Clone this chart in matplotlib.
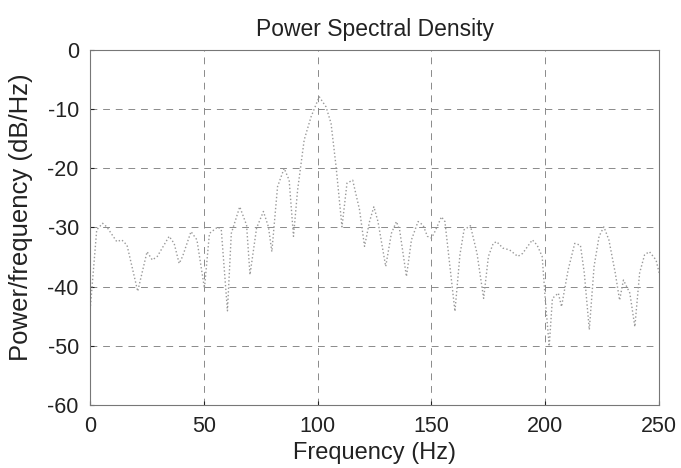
import numpy as np
import matplotlib
matplotlib.use("Agg")
import matplotlib.pyplot as plt

plt.rcParams['font.family'] = ['Liberation Sans', 'DejaVu Sans']
plt.rcParams['axes.unicode_minus'] = False

# values (Hz, dB/Hz)
freq = [0, 3, 5.6, 7.4, 11.8, 14, 16.3, 21, 25.1, 27.4, 29.6, 34.8, 37, 39.2,
        40.7, 44.4, 47, 50.3, 52.5, 56.2, 57.7, 60.4, 62.1, 65.8, 68.8, 70.3,
        73.2, 76.2, 78.4, 79.9, 82.4, 85.3, 87.5, 89.4, 91.2, 94.1, 97.1,
        100.7, 103.7, 105.9, 108.1, 110.7, 112.9, 115.4, 118.4, 120.6, 122.8,
        124.7, 126.5, 129.9, 132.4, 134.6, 136, 139, 141.2, 144.1, 146.3,
        148.2, 150, 151.5, 154.4, 155.9, 160.3, 162.5, 164.3, 167.1, 170,
        172.9, 175, 177.1, 178.6, 181.4, 184.3, 187.9, 190, 194.3, 196.4,
        198.6, 200, 201.7, 203.1, 205.7, 207.1, 210, 212.9, 215.4, 217.1,
        219.3, 221.4, 223.6, 225.7, 227.9, 230.7, 232.6, 234.3, 235.7, 237.1,
        239.3, 241.4, 243.6, 245.7, 248.6, 250]
psd = [-44.5, -30.4, -29.3, -29.9, -32.4, -32.1, -33, -40.8, -34.1, -35.5,
       -34.9, -31.5, -32.7, -36.1, -34.9, -30.7, -32.1, -40.3, -31, -29.9,
       -30.4, -44.1, -31, -26.5, -29.6, -38, -30.1, -27.3, -29.9, -34.1,
       -23.1, -20, -22, -31.5, -23.7, -15.2, -11.3, -7.9, -9.6, -12.4, -19.7,
       -29.9, -22.5, -22, -27, -33.2, -29, -26.5, -29, -36.6, -31, -29,
       -30.4, -38.3, -32.1, -29, -29.6, -31.5, -31.8, -30.7, -28.2, -29,
       -44.2, -34.6, -30.4, -29.7, -34.4, -42, -34.9, -32.7, -32.4, -33.5,
       -33.8, -34.9, -34.4, -32.1, -33, -34.9, -42.3, -50.1, -42, -41.1,
       -43.4, -37.2, -32.7, -33, -37.7, -47.3, -36.6, -31.5, -29.9, -32.1,
       -37.7, -42.3, -38.9, -40, -41.1, -46.8, -37.7, -34.6, -34.1, -35.5,
       -37.7]

fig = plt.figure(figsize=(6.81, 4.68), dpi=100)
ax = fig.add_axes([0.132, 0.135, 0.836, 0.758])

ax.plot(freq, psd, color="#999999", linestyle=":", linewidth=1.0)

ax.set_xlim(0, 250)
ax.set_ylim(-60, 0)
ax.set_xticks([0, 50, 100, 150, 200, 250])
ax.set_yticks([-60, -50, -40, -30, -20, -10, 0])
ax.grid(True, color="#8a8a8a", linestyle=(0, (7, 6)), linewidth=0.7)
ax.tick_params(direction="in", length=3, labelsize=15.5, colors="#222222",
               pad=8)
for s in ax.spines.values():
    s.set_color("#777777")
    s.set_linewidth(0.8)

ax.set_title("Power Spectral Density", fontsize=16.5, color="#222222", pad=10)
ax.set_xlabel("Frequency (Hz)", fontsize=17, color="#222222", labelpad=4)
ax.set_ylabel("Power/frequency (dB/Hz)", fontsize=18.5, color="#222222")
ax.yaxis.set_label_coords(-0.1, 0.53)

fig.savefig("out.png", dpi=100)
